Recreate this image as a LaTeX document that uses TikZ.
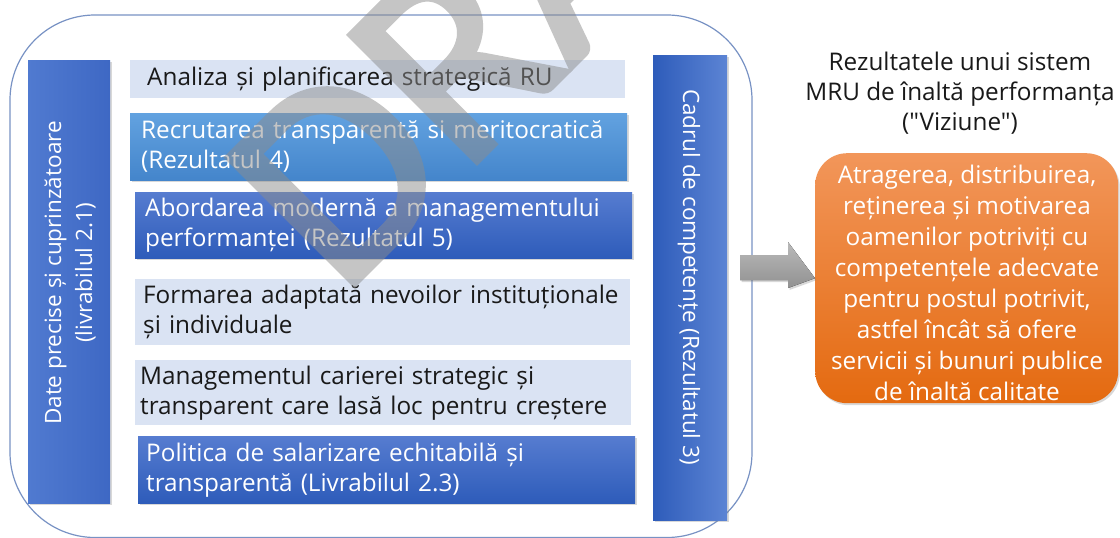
\documentclass[tikz,border=0pt]{standalone}
\usepackage{fontspec}
\setmainfont{Open Sans}[Ligatures=TeXOff]
\newfontfamily\wmfont{Carlito}[FakeBold=2]
\usetikzlibrary{shadows}
\definecolor{lightbox}{RGB}{218,227,243}
\definecolor{frameblue}{RGB}{120,146,196}
\definecolor{skytop}{RGB}{98,162,224}
\definecolor{skybot}{RGB}{68,133,203}
\definecolor{bluetop}{RGB}{86,124,208}
\definecolor{bluebot}{RGB}{46,92,186}
\definecolor{orgtop}{RGB}{242,150,90}
\definecolor{orgbot}{RGB}{228,106,16}
\definecolor{arrtop}{RGB}{186,186,186}
\definecolor{arrbot}{RGB}{145,145,145}
\definecolor{wmgray}{RGB}{140,140,140}
\definecolor{darktext}{RGB}{25,25,25}
\tikzset{
  boxbase/.style={rectangle, anchor=north west, align=left, inner ysep=0pt},
  lightbx/.style={boxbase, fill=lightbox, text=darktext},
  skybx/.style={boxbase, top color=skytop, bottom color=skybot, text=white,
     drop shadow={opacity=0.3, shadow xshift=1.5pt, shadow yshift=-2pt}},
  bluebx/.style={boxbase, top color=bluetop, bottom color=bluebot, text=white,
     drop shadow={opacity=0.3, shadow xshift=1.5pt, shadow yshift=-2pt}},
  vbar/.style={rectangle, anchor=north west, inner sep=0pt,
     drop shadow={opacity=0.3, shadow xshift=1.5pt, shadow yshift=-2pt}},
  bartext/.style={text=white, inner sep=0pt, font=\fontsize{22.5}{31}\selectfont},
  wmtext/.style={anchor=base west, rotate=45, inner sep=0pt, text=wmgray, font=\wmfont\fontsize{280}{280}\selectfont},
}
\begin{document}
\begin{tikzpicture}[x=1pt,y=-1pt,font=\fontsize{24.3}{30}\selectfont]
\useasboundingbox (0,0) rectangle (1120,538);
\fill[white] (0,0) rectangle (1120,538);
% outer frame
\draw[frameblue, line width=1.2pt, rounded corners=85pt] (10,15) rectangle (752,537.5);
% vertical bars
\node[vbar, left color={rgb,255:red,80;green,122;blue,208}, right color={rgb,255:red,62;green,104;blue,196}, minimum width=82pt, minimum height=443pt] (lbar) at (28,60) {};
\node[bartext, rotate=90, align=center] (lbartxt) at (70,273) {Date precise și cuprinzătoare\\(livrabilul 2.1)};
\node[vbar, left color=bluebot, right color={rgb,255:red,92;green,132;blue,212}, minimum width=74pt, minimum height=465pt] (rbar) at (653,55) {};
\node[bartext, rotate=-90] (rbartxt) at (689,277) {Cadrul de competențe (Rezultatul 3)};
% boxes
\node[lightbx, inner xsep=17pt, minimum width=495pt, minimum height=38pt, text width=461pt] (b1) at (130,60) {Analiza și planificarea strategică RU};
\node[skybx, inner xsep=11pt, minimum width=497pt, minimum height=67pt, text width=475pt] (b2) at (130,113) {Recrutarea transparentă si meritocratică\\(Rezultatul 4)};
\node[bluebx, inner xsep=10pt, minimum width=497pt, minimum height=66pt, text width=477pt] (b3) at (135,192) {Abordarea modernă a managementului\\performanței (Rezultatul 5)};
\node[lightbx, inner xsep=8pt, minimum width=495pt, minimum height=66pt, text width=479pt] (b4) at (135,279) {Formarea adaptată nevoilor instituționale\\și individuale};
\node[lightbx, inner xsep=5pt, minimum width=496pt, minimum height=65pt, text width=486pt] (b5) at (135,360) {Managementul carierei strategic și\\transparent care lasă loc pentru creștere};
\node[bluebx, inner xsep=8pt, minimum width=497pt, minimum height=67pt, text width=481pt] (b6) at (138,436) {Politica de salarizare echitabilă și\\transparentă (Livrabilul 2.3)};
% title
\node[align=center, text=darktext, inner sep=0pt] (title) at (960,93) {Rezultatele unui sistem\\MRU de înaltă performanța\\("Viziune")};
% result box
\node[rectangle, rounded corners=32pt, anchor=north west, minimum width=303pt, minimum height=250pt, inner sep=0pt, top color=orgtop, bottom color=orgbot,
   drop shadow={opacity=0.3, shadow xshift=1.5pt, shadow yshift=-2pt}] (res) at (815,153) {};
\node[align=center, text=white, inner sep=0pt, font=\fontsize{24.3}{31}\selectfont] (restxt) at (967,283)
  {Atragerea, distribuirea,\\reținerea și motivarea\\oamenilor potriviți cu\\competențele adecvate\\pentru postul potrivit,\\astfel încât să ofere\\servicii și bunuri publice\\de înaltă calitate};
% block arrow
\coordinate (arrstart) at (740,267.5);
\fill[top color=arrtop, bottom color=arrbot, drop shadow={opacity=0.3, shadow xshift=1.5pt, shadow yshift=-2pt}]
  (arrstart) ++(0,-12.5) -- (788,255) -- (788,242) -- (res.west) -- (788,288) -- (788,280) -- (740,280) -- cycle;
% watermark
\begin{scope}[transparency group, opacity=0.5]
\node[wmtext] (wm) at (341,298) {DRAFT};
\end{scope}
\end{tikzpicture}
\end{document}
